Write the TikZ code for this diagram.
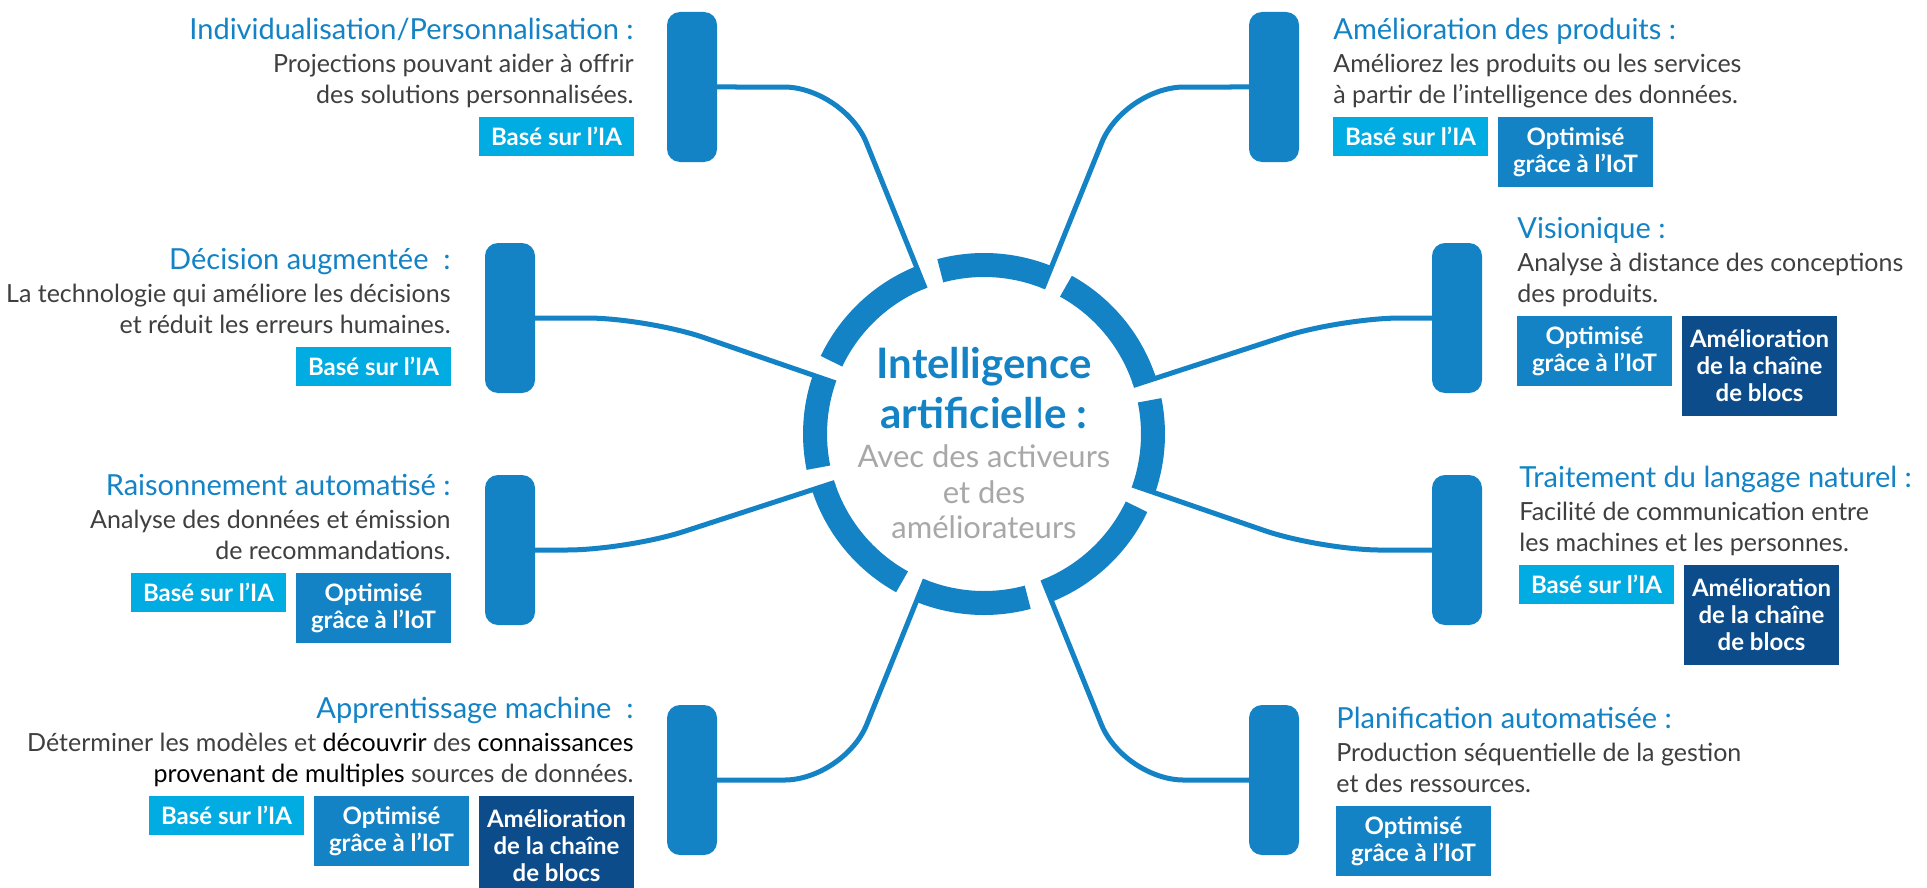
\documentclass[tikz,border=0pt]{standalone}
\usepackage{fontspec}
\setmainfont{Lato}
\usetikzlibrary{positioning}

\definecolor{ringblue}{HTML}{1383C6}
\definecolor{iacyan}{HTML}{00ACE2}
\definecolor{chainblue}{HTML}{0D4C8A}
\definecolor{bodygrey}{HTML}{3F3F3F}
\definecolor{softgrey}{HTML}{A8A8A8}

% blue first line of a text block
\newcommand{\blocktitle}[1]{{\color{ringblue}\fontsize{14.5}{15.5}\selectfont\rule{0pt}{11.5pt}#1}\\[1pt]}

\tikzset{
  bar/.style={fill=ringblue, rounded corners=6.5pt, minimum width=25pt,
    minimum height=75pt, inner sep=0pt, outer sep=0pt},
  link/.style={draw=ringblue, line width=2.5pt, rounded corners=30pt},
  ring/.style={draw=ringblue, line width=12pt},
  desc/.style={font=\fontsize{12.5}{15.5}\selectfont, text=bodygrey, inner sep=0pt},
  badge/.style={font=\bfseries\fontsize{12}{13.5}\selectfont, text=white,
    align=center, minimum width=77.5pt, inner sep=0pt, outer sep=0pt},
  iabox/.style={badge, fill=iacyan, minimum height=19.5pt},
  iotbox/.style={badge, fill=ringblue, minimum height=35pt},
  chainbox/.style={badge, fill=chainblue, minimum height=50pt},
}

\begin{document}
\begin{tikzpicture}[x=0.5pt, y=0.5pt]
\path[use as bounding box, fill=white] (0,0) rectangle (1927,-888);

% the eight bars
\node[bar] (barTL) at (692,-87) {};
\node[bar] (barTR) at (1274,-87) {};
\node[bar] (barL1) at (510,-318) {};
\node[bar] (barR1) at (1457,-318) {};
\node[bar] (barL2) at (510,-550) {};
\node[bar] (barR2) at (1457,-550) {};
\node[bar] (barBL) at (692,-780) {};
\node[bar] (barBR) at (1274,-780) {};

% hub
\node[circle, minimum size=157pt, inner sep=0pt, outer sep=0pt] (core) at (984,-434) {};
\foreach \a/\b in {18.5/68, 68/112, 112/161.5, 161.5/198.5, 198.5/248,
                   248/292, 292/341.5, 341.5/378.5}
  \draw[ring] (core.center) ++(\a:169) arc[start angle=\a, end angle=\b-7, radius=169];

% spokes
\draw[link] (core.112) -- (intersection of core.center--core.112 and barTL.east--barTR.west) -- (barTL.east);
\draw[link] (core.68) -- (intersection of core.center--core.68 and barTL.east--barTR.west) -- (barTR.west);
\draw[link] (core.161.5) -- (intersection of core.center--core.161.5 and barL1.east--barR1.west) -- (barL1.east);
\draw[link] (core.18.5) -- (intersection of core.center--core.18.5 and barL1.east--barR1.west) -- (barR1.west);
\draw[link] (core.198.5) -- (intersection of core.center--core.198.5 and barL2.east--barR2.west) -- (barL2.east);
\draw[link] (core.341.5) -- (intersection of core.center--core.341.5 and barL2.east--barR2.west) -- (barR2.west);
\draw[link] (core.248) -- (intersection of core.center--core.248 and barBL.east--barBR.west) -- (barBL.east);
\draw[link] (core.292) -- (intersection of core.center--core.292 and barBL.east--barBR.west) -- (barBR.west);

% centre text
\node[font=\bfseries\fontsize{21}{25}\selectfont, text=ringblue, align=center,
  anchor=north, inner sep=0pt] (ai) at (984,-346) {\rule{0pt}{16pt}Intelligence\\artificielle :};
\node[font=\fontsize{15.5}{17.75}\selectfont, text=softgrey, align=center,
  inner sep=0pt, below=7pt of ai] (aisub) {\rule{0pt}{12pt}Avec des activeurs\\et des\\améliorateurs};

% top left
\node[desc, align=right, anchor=north east] (tTL) at (634,-16)
  {\blocktitle{Individualisation/Personnalisation :}Projections pouvant aider à offrir\\des solutions personnalisées.};
\node[iabox, below=50.5pt of tTL.north east, anchor=north east] (iaTL) {Basé sur l’IA};

% top right
\node[desc, align=left, anchor=north west] (tTR) at (1333,-16)
  {\blocktitle{Amélioration des produits :}Améliorez les produits ou les services\\à partir de l’intelligence des données.};
\node[iabox, below=50.5pt of tTR.north west, anchor=north west] (iaTR) {Basé sur l’IA};
\node[iotbox, right=5pt of iaTR.north east, anchor=north west] (iotTR) {Optimisé\\grâce à l’IoT};

% left, upper
\node[desc, align=right, anchor=north east] (tL1) at (451,-246)
  {\blocktitle{Décision augmentée~ :}La technologie qui améliore les décisions\\et réduit les erreurs humaines.};
\node[iabox, below=50.5pt of tL1.north east, anchor=north east] (iaL1) {Basé sur l’IA};

% left, lower
\node[desc, align=right, anchor=north east] (tL2) at (451,-472)
  {\blocktitle{Raisonnement automatisé :}Analyse des données et émission\\de recommandations.};
\node[iotbox, below=50.5pt of tL2.north east, anchor=north east] (iotL2) {Optimisé\\grâce à l’IoT};
\node[iabox, left=5pt of iotL2.north west, anchor=north east] (iaL2) {Basé sur l’IA};

% right, upper
\node[desc, align=left, anchor=north west] (tR1) at (1517,-215)
  {\blocktitle{Visionique :}Analyse à distance des conceptions\\des produits.};
\node[iotbox, below=50.5pt of tR1.north west, anchor=north west] (iotR1) {Optimisé\\grâce à l’IoT};
\node[chainbox, right=5pt of iotR1.north east, anchor=north west] (chainR1) {Amélioration\\de la chaîne\\de blocs};

% right, lower
\node[desc, align=left, anchor=north west] (tR2) at (1519,-464)
  {\blocktitle{Traitement du langage naturel :}Facilité de communication entre\\les machines et les personnes.};
\node[iabox, below=50.5pt of tR2.north west, anchor=north west] (iaR2) {Basé sur l’IA};
\node[chainbox, right=5pt of iaR2.north east, anchor=north west] (chainR2) {Amélioration\\de la chaîne\\de blocs};

% bottom left
\node[desc, align=right, anchor=north east] (tBL) at (634,-695)
  {\blocktitle{Apprentissage machine~ :}Déterminer les modèles et \textcolor{black}{découvrir} des \textcolor{black}{connaissances}\\\textcolor{black}{provenant de multiples} sources de données.};
\node[chainbox, below=50.5pt of tBL.north east, anchor=north east] (chainBL) {Amélioration\\de la chaîne\\de blocs};
\node[iotbox, left=5pt of chainBL.north west, anchor=north east] (iotBL) {Optimisé\\grâce à l’IoT};
\node[iabox, left=5pt of iotBL.north west, anchor=north east] (iaBL) {Basé sur l’IA};

% bottom right
\node[desc, align=left, anchor=north west] (tBR) at (1336,-705)
  {\blocktitle{Planification automatisée :}Production séquentielle de la gestion\\et des ressources.};
\node[iotbox, below=50.5pt of tBR.north west, anchor=north west] (iotBR) {Optimisé\\grâce à l’IoT};
\end{tikzpicture}
\end{document}
